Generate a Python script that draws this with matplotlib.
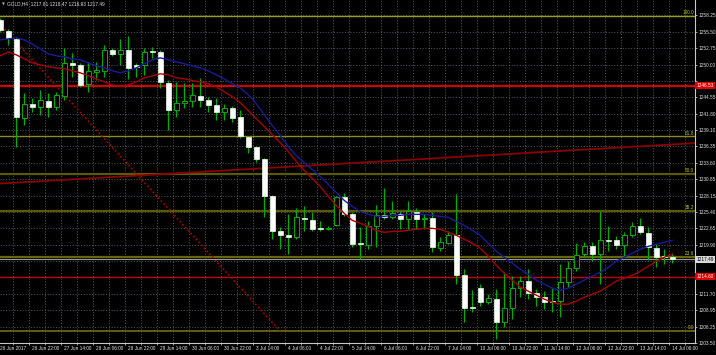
import matplotlib
matplotlib.use("Agg")
import matplotlib.pyplot as plt
import matplotlib.transforms as mtransforms

symbol = "GOLD,H4"

# H4 candles, 26 Jun 2017 06:00 .. 14 Jul 2017 06:00
opens = [1257.50, 1255.67, 1254.33, 1241.17, 1243.50, 1243.00, 1244.00, 1243.00, 1244.83, 1250.33,
         1250.00, 1246.83, 1248.83, 1249.00, 1252.50, 1251.83, 1252.50, 1250.00, 1250.00, 1252.17,
         1252.17, 1247.00, 1242.50, 1243.67, 1244.00, 1244.83, 1244.17, 1243.33, 1242.17, 1242.83,
         1241.33, 1238.00, 1236.33, 1234.33, 1228.00, 1222.17, 1221.50, 1221.17, 1224.33, 1224.00,
         1222.67, 1222.58, 1223.17, 1227.83, 1225.00, 1220.17, 1219.83, 1223.00, 1224.83, 1224.50,
         1225.00, 1224.17, 1225.33, 1224.25, 1224.33, 1219.33, 1220.17, 1221.50, 1214.83, 1209.50,
         1212.67, 1210.33, 1210.83, 1207.00, 1209.33, 1212.67, 1213.83, 1211.83, 1211.17, 1210.50,
         1210.50, 1213.67, 1216.00, 1218.33, 1219.67, 1218.33, 1220.67, 1220.67, 1219.83, 1221.50,
         1223.00, 1221.83, 1219.33, 1218.00, 1217.81]
highs = [1257.83, 1256.00, 1254.67, 1245.33, 1244.50, 1245.83, 1245.33, 1245.50, 1252.83, 1252.00,
         1250.33, 1250.50, 1250.50, 1253.33, 1252.83, 1254.33, 1254.83, 1250.33, 1252.83, 1253.00,
         1252.50, 1247.50, 1247.17, 1247.00, 1247.00, 1247.83, 1244.67, 1244.50, 1243.50, 1243.17,
         1242.50, 1238.17, 1236.50, 1234.50, 1228.17, 1222.83, 1225.00, 1226.00, 1226.33, 1225.33,
         1223.83, 1223.00, 1228.00, 1228.50, 1225.33, 1222.83, 1223.83, 1226.50, 1229.33, 1227.17,
         1225.50, 1227.17, 1226.00, 1225.00, 1225.33, 1221.17, 1222.17, 1228.33, 1215.83, 1212.33,
         1213.33, 1211.67, 1212.50, 1215.33, 1214.67, 1214.67, 1215.83, 1212.50, 1212.17, 1212.67,
         1216.67, 1217.17, 1220.17, 1220.33, 1220.33, 1225.50, 1223.00, 1221.33, 1222.00, 1223.67,
         1224.33, 1222.83, 1220.00, 1219.17, 1218.47]
lows = [1255.50, 1253.33, 1236.33, 1240.00, 1242.17, 1241.67, 1241.33, 1242.50, 1244.17, 1248.00,
        1246.33, 1245.50, 1247.50, 1248.00, 1251.50, 1250.00, 1247.67, 1248.00, 1248.33, 1251.17,
        1246.17, 1239.17, 1241.33, 1242.83, 1243.00, 1243.00, 1242.17, 1240.83, 1240.83, 1240.50,
        1237.83, 1235.33, 1233.67, 1224.50, 1220.83, 1219.17, 1218.33, 1220.83, 1222.17, 1222.17,
        1222.17, 1222.33, 1223.00, 1224.67, 1219.50, 1217.50, 1219.17, 1219.50, 1224.17, 1224.17,
        1222.50, 1222.50, 1222.50, 1222.50, 1218.67, 1218.83, 1220.00, 1213.33, 1207.00, 1208.67,
        1209.67, 1210.00, 1204.17, 1206.17, 1207.50, 1211.17, 1210.83, 1209.67, 1209.17, 1208.67,
        1207.83, 1212.83, 1215.50, 1217.83, 1217.17, 1213.33, 1218.83, 1219.17, 1217.83, 1221.17,
        1221.67, 1217.33, 1216.17, 1216.67, 1216.93]
closes = [1255.83, 1254.50, 1241.33, 1243.50, 1243.00, 1244.17, 1243.00, 1245.00, 1250.33, 1250.00,
          1246.67, 1249.00, 1249.17, 1252.50, 1251.83, 1252.50, 1249.50, 1249.67, 1252.17, 1252.08,
          1247.17, 1242.50, 1243.67, 1244.00, 1245.00, 1244.17, 1243.33, 1242.17, 1242.83, 1241.17,
          1238.17, 1236.33, 1234.33, 1228.00, 1222.17, 1221.50, 1221.17, 1224.50, 1224.17, 1222.50,
          1222.58, 1222.67, 1227.83, 1225.00, 1220.00, 1220.08, 1223.00, 1224.83, 1224.50, 1225.17,
          1224.17, 1225.50, 1224.17, 1224.33, 1219.50, 1220.33, 1221.50, 1214.83, 1209.33, 1209.42,
          1210.33, 1211.00, 1207.00, 1209.33, 1212.67, 1213.83, 1211.83, 1211.17, 1210.33, 1210.42,
          1213.67, 1216.00, 1218.17, 1219.67, 1218.33, 1220.67, 1220.58, 1219.83, 1221.50, 1223.00,
          1222.00, 1219.50, 1217.83, 1217.83, 1217.49]

# moving averages
ma_blue = [1254.16, 1254.33, 1254.50, 1254.16, 1253.50, 1252.66, 1251.83, 1251.50, 1251.33, 1251.00,
           1250.83, 1250.33, 1249.83, 1249.50, 1249.00, 1248.66, 1249.00, 1249.50, 1250.16, 1250.83,
           1251.16, 1250.83, 1250.50, 1250.16, 1249.83, 1249.50, 1249.00, 1248.33, 1247.66, 1246.83,
           1246.16, 1245.00, 1243.50, 1241.66, 1239.83, 1238.16, 1236.33, 1234.83, 1233.66, 1232.50,
           1231.33, 1230.00, 1228.66, 1227.33, 1226.33, 1225.50, 1225.00, 1224.66, 1224.66, 1224.83,
           1224.83, 1225.00, 1225.00, 1225.00, 1224.83, 1224.66, 1224.50, 1223.83, 1223.16, 1222.33,
           1221.50, 1220.16, 1218.83, 1217.83, 1216.83, 1215.83, 1215.00, 1214.00, 1213.33, 1212.66,
           1212.33, 1212.66, 1213.33, 1214.00, 1214.66, 1215.33, 1216.16, 1217.16, 1217.83, 1218.50,
           1219.16, 1219.66, 1220.00, 1220.33, 1220.66]
ma_red = [1251.50, 1252.16, 1251.66, 1251.00, 1250.33, 1250.00, 1249.66, 1249.50, 1249.33, 1249.00,
          1248.66, 1248.16, 1247.66, 1247.16, 1246.66, 1246.33, 1246.66, 1247.16, 1247.83, 1248.16,
          1248.50, 1248.33, 1247.83, 1247.66, 1247.33, 1247.16, 1246.83, 1246.33, 1245.50, 1244.66,
          1243.66, 1242.33, 1241.00, 1239.66, 1238.33, 1237.00, 1235.50, 1233.83, 1232.33, 1231.00,
          1229.66, 1228.00, 1226.50, 1225.16, 1224.00, 1223.50, 1223.00, 1222.33, 1222.00, 1222.16,
          1222.16, 1222.33, 1222.50, 1222.66, 1222.66, 1222.50, 1222.00, 1221.50, 1220.83, 1220.16,
          1219.33, 1218.00, 1216.50, 1215.16, 1214.00, 1212.83, 1212.16, 1211.50, 1210.83, 1210.33,
          1210.00, 1210.00, 1210.50, 1211.16, 1211.66, 1212.16, 1213.00, 1213.83, 1214.33, 1214.83,
          1215.50, 1216.33, 1217.16, 1217.83, 1218.33]

time_labels = ["26 Jun 2017", "26 Jun 22:00", "27 Jun 14:00", "28 Jun 06:00", "28 Jun 22:00",
               "29 Jun 14:00", "30 Jun 06:00", "30 Jun 22:00", "3 Jul 14:00", "4 Jul 06:00",
               "4 Jul 22:00", "5 Jul 14:00", "6 Jul 06:00", "6 Jul 22:00", "7 Jul 14:00",
               "10 Jul 06:00", "10 Jul 22:00", "11 Jul 14:00", "12 Jul 06:00", "12 Jul 22:00",
               "13 Jul 14:00", "14 Jul 06:00"]
price_ticks = [1258.25, 1255.50, 1252.75, 1250.00, 1247.30, 1244.55, 1241.80, 1239.10, 1236.35,
               1233.60, 1230.85, 1228.15, 1225.40, 1222.65, 1219.90, 1217.20, 1214.45, 1211.70,
               1208.95, 1206.25, 1203.50]

fib_levels = [100.0, 61.8, 50.0, 38.2, 23.6, 0.0]
fib_high = 1258.17
fib_low = 1205.45
fib_anchor_x = [-1, 35]
red_levels = [1246.53, 1214.60]
trend_x = [0, 86.8]
trend_y = [1230.15, 1236.90]

FS = 3.4
plt.rcParams['font.family'] = ['Liberation Sans', 'DejaVu Sans']

fig = plt.figure(figsize=(7.16, 3.55), dpi=100, facecolor='black')
ax = fig.add_axes([0, 12 / 355, 695 / 716, 343 / 355])
ax.set_facecolor('black')
n = len(opens)
ax.set_xlim(-0.0375, 86.84)
ax.set_ylim(1203.66, 1260.83)

# grid
grid_style = dict(color='#66768a', lw=0.5, ls=(0, (1.5, 2.5)), zorder=0)
for p in price_ticks:
    ax.axhline(p, **grid_style)
k = 1.625
while k < 87:
    ax.axvline(k, **grid_style)
    k += 2

# fibo levels
fib_colors = ['#9a9a1c', '#8c8c1c', '#5a5a06', '#5a5a06', '#66660c', '#7a7a12']
fib_widths = [1.0, 1.0, 1.6, 1.6, 1.6, 1.1]
for lev, col, w in zip(fib_levels, fib_colors, fib_widths):
    price = fib_low + (fib_high - fib_low) * lev / 100
    ax.axhline(price, color=col, lw=w, zorder=1)
    ax.text(86.7, price + 0.15, "%.1f" % lev, color='#c0c020', fontsize=FS,
            ha='right', va='bottom', zorder=6)
ax.plot(fib_anchor_x, [fib_high, fib_low], color='#b00000', lw=1.2, ls=(0, (1, 1.4)), zorder=1)

# horizontal red levels and trend line
ax.axhline(red_levels[0], color='#d00000', lw=1.6, zorder=1)
ax.axhline(red_levels[1], color='#c00000', lw=1.0, zorder=1)
ax.plot(trend_x, trend_y, color='#8a0000', lw=1.3, zorder=1)
# bid line
ax.axhline(closes[-1], color='#9a9a9a', lw=0.8, zorder=1)

# candles
wick = '#00b000'
for i in range(n):
    o, h, l, c = opens[i], highs[i], lows[i], closes[i]
    ax.vlines(i, l, h, color=wick, lw=0.9, zorder=2)
    body = max(abs(c - o), 0.15)
    if c > o:
        ax.bar(i, body, 0.62, bottom=min(o, c), facecolor='black', edgecolor=wick, lw=0.7, zorder=3)
    else:
        ax.bar(i, body, 0.62, bottom=min(o, c), facecolor='white', edgecolor='#e8ffe8', lw=0.5, zorder=3)

ax.plot(range(n), ma_blue, color='#1a1a9a', lw=1.0, zorder=4)
ax.plot(range(n), ma_red, color='#a80000', lw=1.0, zorder=4)

# axes
for s in ['top', 'left']:
    ax.spines[s].set_visible(False)
for s in ['right', 'bottom']:
    ax.spines[s].set_color('#c8c8c8')
    ax.spines[s].set_linewidth(0.8)
box_levels = red_levels + [closes[-1]]
ax.yaxis.tick_right()
ax.set_yticks(price_ticks)
ax.set_yticklabels(["" if any(abs(p - b) < 1.0 for b in box_levels) else "%.2f" % p
                    for p in price_ticks])
ax.tick_params(axis='y', colors='#e0e0e0', labelsize=FS, length=1.5, width=0.5, pad=1)
ax.set_xticks(range(0, n, 4))
ax.set_xticklabels(time_labels, ha='left')
ax.set_xticks([1.625 + 2 * j for j in range(43)], minor=True)
ax.tick_params(axis='x', which='major', colors='#e0e0e0', labelsize=FS, length=0, pad=2.5)
ax.tick_params(axis='x', which='minor', colors='#c8c8c8', length=1.5, width=0.5)

# price boxes on the right scale
blend = mtransforms.blended_transform_factory(ax.transAxes, ax.transData)
for lev in red_levels:
    ax.text(1.002, lev, "%.2f" % lev, transform=blend, color='white', fontsize=FS,
            ha='left', va='center', clip_on=False, zorder=10,
            bbox=dict(boxstyle='square,pad=0.2', fc='#e00000', ec='none'))
ax.text(1.002, closes[-1], "%.2f" % closes[-1], transform=blend, color='black', fontsize=FS,
        ha='left', va='center', clip_on=False, zorder=10,
        bbox=dict(boxstyle='square,pad=0.2', fc='#d8d8d8', ec='none'))

# header
ax.text(2 / 695, 1 - 4 / 343, "\u25bc", transform=ax.transAxes, color='#b0b0b0',
        fontsize=2.6, ha='left', va='center', family='DejaVu Sans', zorder=10)
ax.text(7 / 695, 1 - 4 / 343, "%s  %.2f %.2f %.2f %.2f" % (symbol, opens[-1], highs[-1], lows[-1], closes[-1]),
        transform=ax.transAxes, color='#e0e0e0', fontsize=FS, ha='left', va='center', zorder=10)

fig.savefig("out.png", dpi=100, facecolor='black')
